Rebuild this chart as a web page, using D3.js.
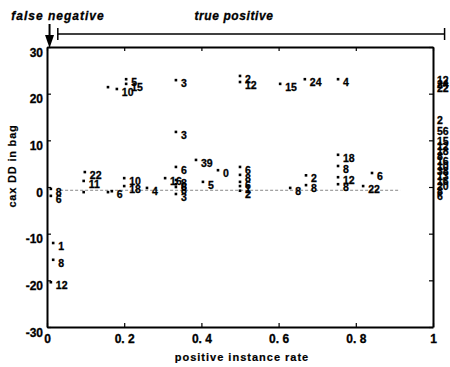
<!DOCTYPE html>
<html><head><meta charset="utf-8">
<script src="https://cdn.jsdelivr.net/npm/d3@7"></script>
<style>
html,body{margin:0;padding:0;background:#fff;}
text{font-family:"Liberation Sans",Arial,sans-serif;font-weight:bold;fill:#000;}
</style></head>
<body><svg id="c" width="450" height="367"></svg>
<script>
// ---- data ----
const xTicks = [0, 0.2, 0.4, 0.6, 0.8, 1];
const xTickLabels = ["0", "0. 2", "0. 4", "0. 6", "0. 8", "1"];
const yTicks = [-30, -20, -10, 0, 10, 20, 30];
const yTickLabels = ["-30", "-20", "-10", "0", "10", "20", "30"];

// points: positive instance rate, max DD in bag, bag label
const rate = [
  0.016, 0.016, 0.010, 0.010, 0.010,
  0.098, 0.095, 0.095,
  0.158, 0.168, 0.200, 0.200, 0.259,
  0.158, 0.205, 0.205, 0.181,
  0.334, 0.334, 0.334, 0.306, 0.334, 0.334, 0.334, 0.334,
  0.386, 0.404, 0.443,
  0.500, 0.500, 0.500, 0.500, 0.500, 0.500, 0.500,
  0.604, 0.630,
  0.668, 0.671, 0.671,
  0.754, 0.754, 0.754, 0.754, 0.754,
  0.842, 0.819
];
const maxDD = [
  -12.0, -15.6, -20.4, -0.4, -1.9,
  3.2, 1.3, -1.1,
  -1.1, -0.9, 1.9, 0.2, -0.2,
  21.4, 23.1, 22.1, 21.0,
  22.9, 11.8, 4.3, 1.9, 1.5, 0.6, 0.0, -1.5,
  5.8, 1.1, 3.6,
  23.8, 22.5, 4.3, 2.6, 1.1, 0.2, -0.8,
  22.1, -0.2,
  23.1, 2.5, 0.4,
  23.1, 6.9, 4.5, 2.1, 0.6,
  3.0, 0.2
];
const bagLabel = [
  "1", "8", "12", "8", "6",
  "22", "11", "",
  "", "6", "10", "18", "4",
  "", "5", "15", "10",
  "3", "3", "6", "16", "8", "6", "8", "3",
  "39", "5", "0",
  "2", "12", "6", "8", "6", "1", "2",
  "15", "8",
  "24", "2", "8",
  "4", "18", "8", "12", "8",
  "6", "22"
];
// bags with rate 1 (labels outside right axis)
const fullDD = [23.6, 22.7, 21.9, 15.0, 12.6, 10.5, 9.4, 8.4, 7.3, 6.2, 5.1, 4.1, 3.0, 1.9, 0.9, -0.2, -1.3];
const fullLabel = ["12", "24", "22", "2", "56", "15", "12", "18", "8", "16", "10", "38", "13", "16", "20", "8", "6"];

const refLineY = -0.7;
const refLineRange = [0.034, 0.915];
const fnArrowX = 0.004;
const tpRange = [0.028, 1.03];

// ---- drawing ----
const svg = d3.select("#c");
const x = d3.scaleLinear().domain([0, 1]).range([47, 433]);
const y = d3.scaleLinear().domain([-30, 30]).range([327, 47]);

// reference dashed line
svg.append("line")
  .attr("x1", x(refLineRange[0])).attr("x2", x(refLineRange[1]))
  .attr("y1", y(refLineY)).attr("y2", y(refLineY))
  .attr("stroke", "#888").attr("stroke-width", 1).attr("stroke-dasharray", "3,2");

// axes
const styleAxis = g => {
  g.select(".domain").attr("stroke", "#000").attr("stroke-width", 2);
  g.selectAll(".tick line").attr("stroke", "#000").attr("stroke-width", 1.2);
  g.selectAll(".tick text").attr("font-size", 12).attr("font-weight", "bold")
    .attr("font-family", "Liberation Sans, Arial, sans-serif")
    .attr("stroke", "#000").attr("stroke-width", 0.3);
};
svg.append("g").attr("transform", `translate(0,${y(-30)})`)
  .call(d3.axisBottom(x).tickValues(xTicks).tickFormat((d, i) => xTickLabels[i])
    .tickSizeInner(-4).tickSizeOuter(0).tickPadding(7))
  .call(styleAxis);
svg.append("g").attr("transform", `translate(0,${y(30)})`)
  .call(d3.axisTop(x).tickValues(xTicks).tickFormat("")
    .tickSizeInner(-4).tickSizeOuter(0))
  .call(styleAxis);
svg.append("g").attr("transform", `translate(${x(0)},0)`)
  .call(d3.axisLeft(y).tickValues(yTicks).tickFormat((d, i) => yTickLabels[i])
    .tickSizeInner(-4).tickSizeOuter(0).tickPadding(4))
  .call(styleAxis)
  .call(g => g.selectAll(".tick text").attr("dy", "0.75em"));
svg.append("g").attr("transform", `translate(${x(1)},0)`)
  .call(d3.axisRight(y).tickValues(yTicks).tickFormat("")
    .tickSizeInner(-4).tickSizeOuter(0))
  .call(styleAxis);

// points
const pts = rate.map((r, i) => ({r, v: maxDD[i], lab: bagLabel[i]}));
svg.append("g").selectAll("rect").data(pts).join("rect")
  .attr("x", d => x(d.r) - 1.3).attr("y", d => y(d.v) - 1.3)
  .attr("width", 2.6).attr("height", 2.6).attr("fill", "#000");
svg.append("g").selectAll("text").data(pts).join("text")
  .attr("x", d => x(d.r) + 5).attr("y", d => y(d.v) + 7)
  .attr("font-size", 10.5).attr("stroke", "#000").attr("stroke-width", 0.3)
  .text(d => d.lab);

// full-rate bags
svg.append("g").selectAll("text").data(fullDD.map((v, i) => ({v, lab: fullLabel[i]}))).join("text")
  .attr("x", x(1) + 4).attr("y", d => y(d.v) + 7)
  .attr("font-size", 10.5).attr("stroke", "#000").attr("stroke-width", 0.3)
  .text(d => d.lab);

// annotations
const ax = x(fnArrowX) + 1;
svg.append("line").attr("x1", ax).attr("x2", ax).attr("y1", 24).attr("y2", 38)
  .attr("stroke", "#000").attr("stroke-width", 2);
svg.append("path").attr("d", `M${ax - 4.5},35 L${ax + 4.5},35 L${ax},48 Z`).attr("fill", "#000");
svg.append("line").attr("x1", x(tpRange[0])).attr("x2", x(tpRange[1])).attr("y1", 34).attr("y2", 34)
  .attr("stroke", "#000").attr("stroke-width", 1.6);
[tpRange[0], tpRange[1]].forEach(t => svg.append("line")
  .attr("x1", x(t)).attr("x2", x(t)).attr("y1", 28).attr("y2", 40)
  .attr("stroke", "#000").attr("stroke-width", 1.5));
svg.append("text").attr("x", 58).attr("y", 20).attr("text-anchor", "middle")
  .attr("font-size", 12).attr("font-style", "italic").attr("letter-spacing", 1)
  .attr("stroke", "#000").attr("stroke-width", 0.3)
  .text("false negative");
svg.append("text").attr("x", 234).attr("y", 20).attr("text-anchor", "middle")
  .attr("font-size", 12).attr("font-style", "italic").attr("letter-spacing", 0.6)
  .attr("stroke", "#000").attr("stroke-width", 0.3)
  .text("true positive");

// axis titles
svg.append("text").attr("x", 242).attr("y", 361).attr("text-anchor", "middle")
  .attr("font-size", 11).attr("letter-spacing", 1).attr("stroke", "#000").attr("stroke-width", 0.2)
  .text("positive instance rate");
svg.append("text").attr("transform", "translate(16,166) rotate(-90)").attr("text-anchor", "middle")
  .attr("font-size", 11).attr("letter-spacing", 0.8).attr("stroke", "#000").attr("stroke-width", 0.2)
  .text("cax DD in bag");
</script></body></html>
